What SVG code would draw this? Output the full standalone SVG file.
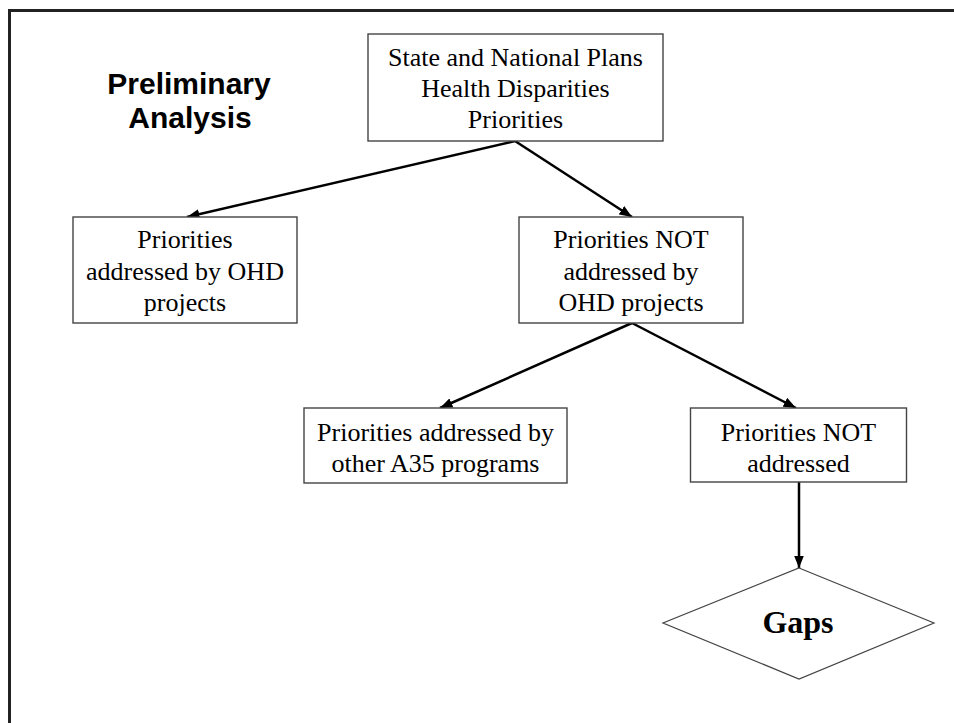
<svg xmlns="http://www.w3.org/2000/svg" width="954" height="723" viewBox="0 0 954 723">
<style>
.box{fill:#fff;stroke:#444;stroke-width:1.4}
.t{font-family:"Liberation Serif","Times New Roman",serif;font-size:26px;fill:#000;text-anchor:middle}
.title{font-family:"Liberation Sans",Arial,sans-serif;font-size:30px;font-weight:bold;fill:#000;text-anchor:middle}
.gaps{font-family:"Liberation Serif","Times New Roman",serif;font-size:32px;font-weight:bold;fill:#000;text-anchor:middle}
.c{stroke:#000;stroke-width:2.5;fill:none;marker-end:url(#ah)}
</style>
<defs>
<marker id="ah" viewBox="0 0 10 8" refX="10" refY="4" markerWidth="5" markerHeight="4" orient="auto" markerUnits="strokeWidth">
<path d="M0,0 L10,4 L0,8 z" fill="#000"/>
</marker>
</defs>
<rect x="0" y="0" width="954" height="723" fill="#fff"/>
<rect id="frame" x="9.5" y="10.5" width="970" height="740" fill="none" stroke="#222" stroke-width="3"/>
<g id="title">
<text class="title" x="189" y="94">Preliminary</text>
<text class="title" x="190" y="128">Analysis</text>
</g>
<g id="connectors">
<line class="c" x1="515" y1="141" x2="187" y2="217"/>
<line class="c" x1="515" y1="141" x2="632" y2="217"/>
<line class="c" x1="632" y1="323" x2="440" y2="408"/>
<line class="c" x1="632" y1="323" x2="796" y2="408"/>
<line class="c" x1="799" y1="482" x2="799" y2="568"/>
</g>
<g id="n-plans">
<rect class="box" x="368" y="34" width="295" height="107"/>
<text class="t" x="515.5" y="66">State and National Plans</text>
<text class="t" x="515.5" y="97">Health Disparities</text>
<text class="t" x="515.5" y="128">Priorities</text>
</g>
<g id="n-ohd">
<rect class="box" x="73" y="217" width="224" height="106"/>
<text class="t" x="185" y="248">Priorities</text>
<text class="t" x="185" y="280">addressed by OHD</text>
<text class="t" x="185" y="311">projects</text>
</g>
<g id="n-not-ohd">
<rect class="box" x="519" y="217" width="224" height="106"/>
<text class="t" x="631" y="248">Priorities NOT</text>
<text class="t" x="631" y="280">addressed by</text>
<text class="t" x="631" y="311">OHD projects</text>
</g>
<g id="n-a35">
<rect class="box" x="304" y="408" width="263" height="75"/>
<text class="t" x="435.5" y="441">Priorities addressed by</text>
<text class="t" x="435.5" y="472">other A35 programs</text>
</g>
<g id="n-not">
<rect class="box" x="690.5" y="408" width="216" height="74"/>
<text class="t" x="798.5" y="441">Priorities NOT</text>
<text class="t" x="798.5" y="472">addressed</text>
</g>
<g id="n-gaps">
<polygon class="box" points="799,568 934,623 799,679 663,623" style="stroke-width:1.2"/>
<text class="gaps" x="798" y="633">Gaps</text>
</g>
</svg>
